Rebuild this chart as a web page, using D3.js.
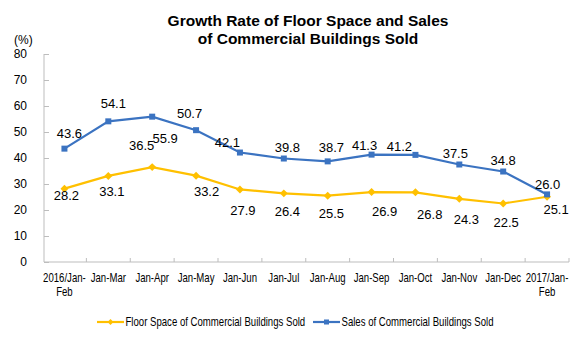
<!DOCTYPE html>
<html>
<head>
<meta charset="utf-8">
<script src="https://cdn.jsdelivr.net/npm/d3@7"></script>
<style>
  body { margin: 0; background: #fff; }
  svg text { font-family: Arial, "Liberation Sans", sans-serif; fill: #000; }
</style>
</head>
<body>
<div class="container"></div>
<script>
var periods = ["2016/Jan-Feb", "Jan-Mar", "Jan-Apr", "Jan-May", "Jan-Jun", "Jan-Jul",
    "Jan-Aug", "Jan-Sep", "Jan-Oct", "Jan-Nov", "Jan-Dec", "2017/Jan-Feb"];
var floorSpace = [28.2, 33.1, 36.5, 33.2, 27.9, 26.4, 25.5, 26.9, 26.8, 24.3, 22.5, 25.1];
var sales = [43.6, 54.1, 55.9, 50.7, 42.1, 39.8, 38.7, 41.3, 41.2, 37.5, 34.8, 26.0];
var yTicks = [0, 10, 20, 30, 40, 50, 60, 70, 80];
var seriesNames = ["Floor Space of Commercial Buildings Sold", "Sales of Commercial Buildings Sold"];

// hand-placed label nudges (dx, dy from the point)
var floorLabelOffset = [[2, 11], [3.5, 20], [-10.5, -17.5], [10.5, 20], [3, 26], [3.5, 23],
    [3.7, 22], [13, 24], [14.3, 26.3], [7, 24.7], [3, 23.7], [9, 17.7]];
var salesLabelOffset = [[5, -10.6], [5, -13.7], [13, 26.5], [-6.5, -12], [-12.5, -6], [3.5, -6.3],
    [3.7, -9], [-7, -4.3], [-16, -4], [-4, -7], [0, -6.7], [0.5, -5]];

var yellow = "#FFC000", blue = "#3B73C1";
var squeeze = 0.8;   // condensed look for axis and legend text

var svg = d3.select('.container')
    .append('svg')
    .attr('width', 588)
    .attr('height', 338);

var x = d3.scaleBand()
    .domain(periods)
    .range([42.5, 569]);

var y = d3.scaleLinear()
    .domain([0, 80])
    .range([262, 54]);

function cx(i) { return x(periods[i]) + x.bandwidth() / 2; }

// title
var title = svg.append('text')
    .attr('text-anchor', 'middle')
    .style('font-weight', 'bold')
    .style('font-size', '15.5px');
title.append('tspan').attr('x', 308).attr('y', 26).text('Growth Rate of Floor Space and Sales');
title.append('tspan').attr('x', 308).attr('y', 44).text('of Commercial Buildings Sold');

svg.append('text')
    .attr('x', 14)
    .attr('y', 44)
    .style('font-size', '12px')
    .text('(%)');

// y axis
var yAxis = d3.axisLeft(y)
    .tickValues(yTicks)
    .tickSize(-5)
    .tickPadding(17);

var gy = svg.append('g')
    .attr('transform', 'translate(44,0)')
    .call(yAxis);
gy.select('.domain').attr('stroke', '#BDBDBD').attr('d', 'M0,' + y(80) + 'V' + y(0));
gy.selectAll('.tick line').attr('stroke', '#BDBDBD');
gy.selectAll('.tick text').style('font-size', '12px').attr('fill', '#000');

// x axis
var gx = svg.append('g')
    .attr('transform', 'translate(0,262)');
gx.append('line')
    .attr('x1', 44).attr('x2', x.range()[1])
    .attr('stroke', '#BDBDBD');
gx.selectAll('line.tk')
    .data(periods)
    .enter()
    .append('line')
    .attr('class', 'tk')
    .attr('x1', function (d) { return x(d) + x.bandwidth(); })
    .attr('x2', function (d) { return x(d) + x.bandwidth(); })
    .attr('y1', 0).attr('y2', -4)
    .attr('stroke', '#BDBDBD');

gx.selectAll('g.xl')
    .data(periods)
    .enter()
    .append('g')
    .attr('class', 'xl')
    .attr('transform', function (d, i) { return 'translate(' + cx(i) + ',0) scale(' + squeeze + ',1)'; })
    .each(function (d) {
        var parts = d.indexOf('/') > 0 ? [d.slice(0, d.length - 3), d.slice(-3)] : [d];
        var t = d3.select(this).append('text')
            .attr('text-anchor', 'middle')
            .style('font-size', '12px');
        parts.forEach(function (p, k) {
            t.append('tspan')
                .attr('x', 0)
                .attr('y', 20 + k * 14)
                .text(p);
        });
    });

var line = d3.line()
    .x(function (d, i) { return cx(i); })
    .y(function (d) { return y(d); });

// floor space series
svg.append('path')
    .datum(floorSpace)
    .attr('d', line)
    .attr('fill', 'none')
    .attr('stroke', yellow)
    .attr('stroke-width', 2.2);

svg.selectAll('path.diamond')
    .data(floorSpace)
    .enter()
    .append('path')
    .attr('class', 'diamond')
    .attr('d', d3.symbol().type(d3.symbolDiamond2).size(40))
    .attr('transform', function (d, i) { return 'translate(' + cx(i) + ',' + y(d) + ')'; })
    .attr('fill', yellow);

// sales series
svg.append('path')
    .datum(sales)
    .attr('d', line)
    .attr('fill', 'none')
    .attr('stroke', blue)
    .attr('stroke-width', 2.2);

svg.selectAll('rect.sq')
    .data(sales)
    .enter()
    .append('rect')
    .attr('class', 'sq')
    .attr('x', function (d, i) { return cx(i) - 3; })
    .attr('y', function (d) { return y(d) - 3; })
    .attr('width', 6)
    .attr('height', 6)
    .attr('fill', blue);

// data labels
svg.selectAll('text.fl')
    .data(floorSpace)
    .enter()
    .append('text')
    .attr('class', 'fl')
    .attr('text-anchor', 'middle')
    .style('font-size', '13px')
    .attr('x', function (d, i) { return cx(i) + floorLabelOffset[i][0]; })
    .attr('y', function (d, i) { return y(d) + floorLabelOffset[i][1]; })
    .text(function (d) { return d.toFixed(1); });

svg.selectAll('text.sl')
    .data(sales)
    .enter()
    .append('text')
    .attr('class', 'sl')
    .attr('text-anchor', 'middle')
    .style('font-size', '13px')
    .attr('x', function (d, i) { return cx(i) + salesLabelOffset[i][0]; })
    .attr('y', function (d, i) { return y(d) + salesLabelOffset[i][1]; })
    .text(function (d) { return d.toFixed(1); });

// legend
var legend = svg.append('g').attr('transform', 'translate(0,322)');
var legendItems = [
    { name: seriesNames[0], color: yellow, x0: 97, marker: 'diamond' },
    { name: seriesNames[1], color: blue, x0: 313, marker: 'square' }
];
legendItems.forEach(function (d) {
    legend.append('line')
        .attr('x1', d.x0).attr('x2', d.x0 + 27)
        .attr('stroke', d.color)
        .attr('stroke-width', 2.2);
    if (d.marker === 'diamond') {
        legend.append('path')
            .attr('d', d3.symbol().type(d3.symbolDiamond2).size(22))
            .attr('transform', 'translate(' + (d.x0 + 13.5) + ',0)')
            .attr('fill', d.color);
    } else {
        legend.append('rect')
            .attr('x', d.x0 + 11).attr('y', -2.5)
            .attr('width', 5).attr('height', 5)
            .attr('fill', d.color);
    }
    legend.append('text')
        .attr('transform', 'translate(' + (d.x0 + 28.5) + ',4) scale(' + squeeze + ',1)')
        .style('font-size', '12px')
        .text(d.name);
});
</script>
</body>
</html>
